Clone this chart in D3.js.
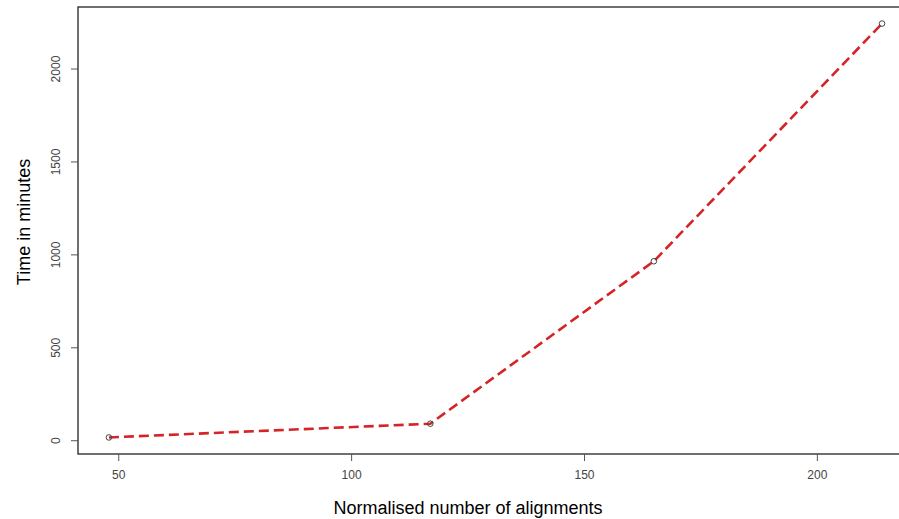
<!DOCTYPE html>
<html lang="en">
<head>
  <meta charset="utf-8" />
  <script src="https://d3js.org/d3.v7.min.js"></script>
  <style>
    body { margin: 0; background: #fff; }
    text { font-family: "Liberation Sans", Arial, sans-serif; }
    .tick text { fill: #444; font-size: 12px; }
  </style>
</head>
<body>
<svg width="899" height="519"></svg>
<script>
// values
var alignments = [48, 117, 165, 214];
var minutes = [15, 89, 963, 2242];
var xTicks = [50, 100, 150, 200];
var yTicks = [0, 500, 1000, 1500, 2000];

var svg = d3.select("svg");

// R style axis range: data range padded by 4% on each side
function pad(ext) {
  var d = (ext[1] - ext[0]) * 0.04;
  return [ext[0] - d, ext[1] + d];
}

var x = d3.scaleLinear().domain(pad(d3.extent(alignments))).range([78, 913]);
var y = d3.scaleLinear().domain(pad(d3.extent(minutes))).range([454, 7]);

// box
svg.append("rect")
  .attr("x", x.range()[0])
  .attr("y", y.range()[1])
  .attr("width", x.range()[1] - x.range()[0])
  .attr("height", y.range()[0] - y.range()[1])
  .attr("fill", "none")
  .attr("stroke", "#222")
  .attr("stroke-width", 1.3);

var xAxis = svg.append("g")
  .attr("transform", "translate(0," + y.range()[0] + ")")
  .call(d3.axisBottom(x).tickValues(xTicks).tickSize(7).tickPadding(9).tickFormat(d3.format("d")));
xAxis.select(".domain").remove();
xAxis.selectAll(".tick line").attr("stroke", "#555");

var yAxis = svg.append("g")
  .attr("transform", "translate(" + x.range()[0] + ",0)")
  .call(d3.axisLeft(y).tickValues(yTicks).tickSize(7).tickFormat(d3.format("d")));
yAxis.select(".domain").remove();
yAxis.selectAll(".tick line").attr("stroke", "#555");
yAxis.selectAll(".tick text")
  .attr("x", 0)
  .attr("text-anchor", "middle")
  .attr("transform", "translate(-22,0) rotate(-90)")
  .attr("dy", "0.35em");

// line
var line = d3.line()
  .x(function(d, i) { return x(alignments[i]); })
  .y(function(d) { return y(d); });

svg.append("path")
  .datum(minutes)
  .attr("d", line)
  .attr("fill", "none")
  .attr("stroke", "#d42428")
  .attr("stroke-width", 2.6)
  .attr("stroke-dasharray", "10,5");

svg.selectAll("circle.pt")
  .data(minutes)
  .enter()
  .append("circle")
  .attr("class", "pt")
  .attr("cx", function(d, i) { return x(alignments[i]); })
  .attr("cy", function(d) { return y(d); })
  .attr("r", 2.8)
  .attr("fill", "none")
  .attr("stroke", "#444")
  .attr("stroke-width", 1);

// axis titles
svg.append("text")
  .attr("x", 468)
  .attr("y", 514)
  .attr("text-anchor", "middle")
  .attr("font-size", 18)
  .attr("fill", "#000")
  .text("Normalised number of alignments");

svg.append("text")
  .attr("transform", "translate(30,222) rotate(-90)")
  .attr("text-anchor", "middle")
  .attr("font-size", 18)
  .attr("fill", "#000")
  .text("Time in minutes");
</script>
</body>
</html>
